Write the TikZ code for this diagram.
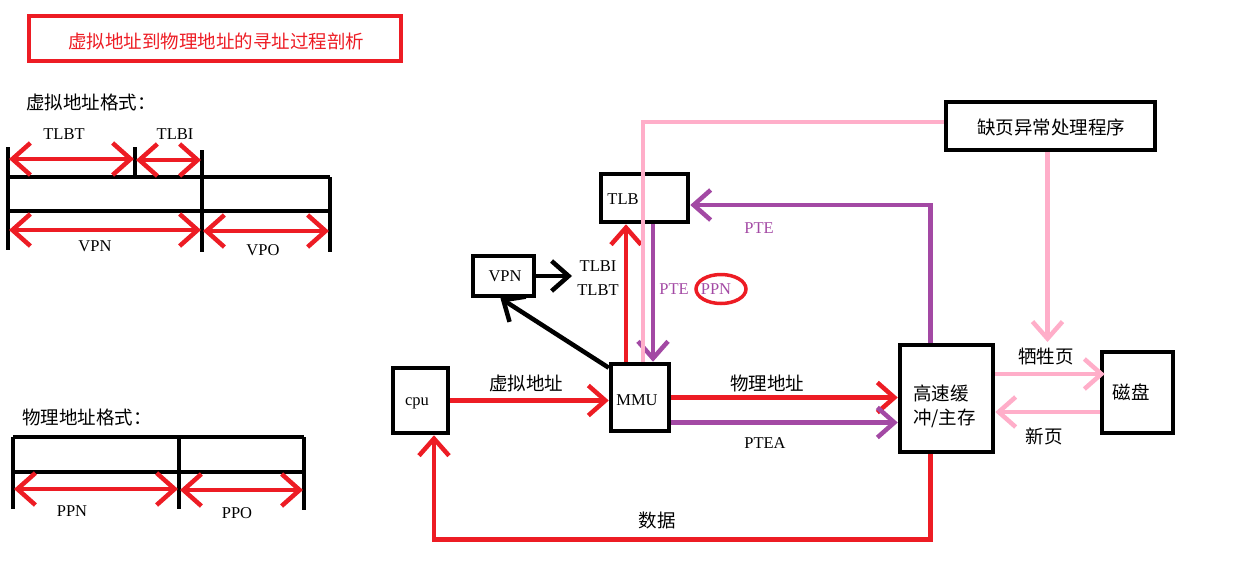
\documentclass[tikz,border=0pt]{standalone}
\usepackage{fontspec}
\setmainfont{Liberation Serif}
\newfontfamily\cjk{Noto Sans CJK SC}
\usetikzlibrary{arrows.meta,calc,shapes.geometric}
\definecolor{rred}{HTML}{ED1C24}
\definecolor{ppur}{HTML}{A349A4}
\definecolor{ppink}{HTML}{FFAEC9}
\tikzset{
  box/.style={draw=black, line width=4.5pt, inner sep=0pt, fill=none},
  lat/.style={inner sep=0pt, font=\fontsize{16.5}{18}\selectfont},
  han/.style={inner sep=0pt, font=\cjk\fontsize{18.5}{24}\selectfont},
  barb/.style={-{Straight Barb[length=17pt,width=30pt]}},
  dbarb/.style={{Straight Barb[length=18pt,width=32pt]}-{Straight Barb[length=18pt,width=32pt]}},
  rl/.style={draw=rred, line width=4.5pt},
  pl/.style={draw=ppur, line width=4.5pt},
  kl/.style={draw=ppink, line width=4.5pt},
  bl/.style={draw=black, line width=4.5pt},
}
\begin{document}
\begin{tikzpicture}[x=1pt,y=-1pt]
\useasboundingbox (0,0) rectangle (1237,576);
% title
\node[draw=rred, line width=4pt, minimum width=372, minimum height=45, inner sep=0pt] (titlebox) at (215,38.5) {};
\node[han, text=rred] (title) at (216,41) {虚拟地址到物理地址的寻址过程剖析};

% virtual address format
\node[han, anchor=west] (vfmt) at (26,102) {虚拟地址格式：};
\draw[bl] (8,147) -- (8,250);
\draw[bl] (135,147) -- (135,177);
\draw[bl] (202,150) -- (202,252);
\draw[bl] (330,177) -- (330,252);
\draw[bl] (8,177) -- (330,177);
\draw[bl] (8,211) -- (330,211);
\draw[rl, dbarb] (9,159) -- (134,159);
\draw[rl, dbarb] (136,160) -- (201,160);
\draw[rl, dbarb] (9,230) -- (201,230);
\draw[rl, dbarb] (203,231) -- (329,231);
\node[lat] (tlbtl) at (64,134) {TLBT};
\node[lat] (tlbil) at (175,134) {TLBI};
\node[lat] (vpnl) at (95,246) {VPN};
\node[lat] (vpol) at (263,250) {VPO};

% physical address format
\node[han, anchor=west] (pfmt) at (22,417) {物理地址格式：};
\draw[bl] (13,437) -- (13,509);
\draw[bl] (179,437) -- (179,509);
\draw[bl] (304,437) -- (304,510);
\draw[bl] (13,437) -- (304,437);
\draw[bl] (13,472) -- (304,472);
\draw[rl, dbarb] (14,489) -- (178,489);
\draw[rl, dbarb] (180,490) -- (303,490);
\node[lat] (ppnl) at (72,511) {PPN};
\node[lat] (ppol) at (237,513) {PPO};

% boxes
\node[box, minimum width=55, minimum height=65] (cpu) at (420.5,400.5) {};
\node[box, minimum width=58, minimum height=67] (mmu) at (640,397.5) {};
\node[box, minimum width=87, minimum height=48] (tlb) at (644.5,198) {};
\node[box, minimum width=61, minimum height=40] (vpn) at (503.5,276) {};
\node[box, minimum width=93, minimum height=107] (cache) at (946.5,398.5) {};
\node[box, minimum width=71, minimum height=81] (disk) at (1137.5,392.5) {};
\node[box, minimum width=209, minimum height=48] (pf) at (1050.5,126) {};

\node[lat] (cput) at (417,403) {cpu};
\node[lat] (mmut) at (637,400) {MMU};
\node[lat] (tlbt) at (623,199) {TLB};
\node[lat] (vpnt) at (505,276) {VPN};
\node[han] (pft) at (1051,127) {缺页异常处理程序};
\node[han, anchor=west, align=left] (cachet) at (913,406) {高速缓\\冲/主存};
\node[han] (diskt) at (1131,392) {磁盘};

% helper coordinates
\coordinate (mmuE2) at ($(mmu.east)+(0,25)$);
\coordinate (cacheE1) at ($(cache.east)+(0,-24.5)$);
\coordinate (diskW1) at ($(disk.west)+(0,19.5)$);

% connectors
\draw[rl, barb] (cpu.east) -- (cpu.east -| mmu.west);
\node[han] (vaddr) at (526,383) {虚拟地址};
\draw[rl, barb] (mmu.east) -- (mmu.east -| cache.west);
\node[han] (paddr) at (767,383) {物理地址};
\draw[pl, barb] (mmuE2) -- (mmuE2 -| cache.west);
\node[lat] (ptea) at (765,443) {PTEA};
\draw[rl, barb] ($(cache.south)+(-16,0)$) -- ++(0,85) -| ($(cpu.south)+(13.5,0)$);
\node[han] (data) at (657,520) {数据};

\draw[rl, barb] ($(mmu.north)+(-14,0)$) -- ($(tlb.south)+(-18.5,0)$);
\draw[pl, barb] ($(tlb.south)+(8.5,0)$) -- ($(mmu.north)+(13,0)$);
\node[lat, text=ppur] (pte1) at (674,289) {PTE};
\node[lat, text=ppur] (ppn1) at (716,289) {PPN};
\node[draw=rred, line width=3.5pt, ellipse, minimum width=50, minimum height=29, inner sep=0pt] (ppnc) at (721,289) {};

\draw[pl, barb] ($(cache.north)+(-16,0)$) |- ($(tlb.east)+(0,7)$);
\node[lat, text=ppur] (pte2) at (759,228) {PTE};

\coordinate (pk) at (643,122);
\draw[kl] ($(pf.west)+(0,-4)$) -- (pk) -- (pk |- mmu.north);

\draw[bl, barb] ($(mmu.north west)+(0,6)$) -- ($(vpn.south)+(-3,0)$);
\coordinate (vt) at (572,276);
\draw[bl, barb] (vpn.east) -- (vt);
\node[lat] (tlbi2) at (598,266) {TLBI};
\node[lat] (tlbt2) at (598,290) {TLBT};

\coordinate (vend) at (1047.5,342);
\draw[kl, barb] ($(pf.south)+(-3,0)$) -- (vend);
\draw[kl, barb] (cacheE1) -- ($(cacheE1 -| disk.west)+(5,0)$);
\node[han] (victim) at (1046,357) {牺牲页};
\draw[kl, barb] (diskW1) -- (diskW1 -| cache.east);
\node[han] (newp) at (1044,436) {新页};
\end{tikzpicture}
\end{document}
